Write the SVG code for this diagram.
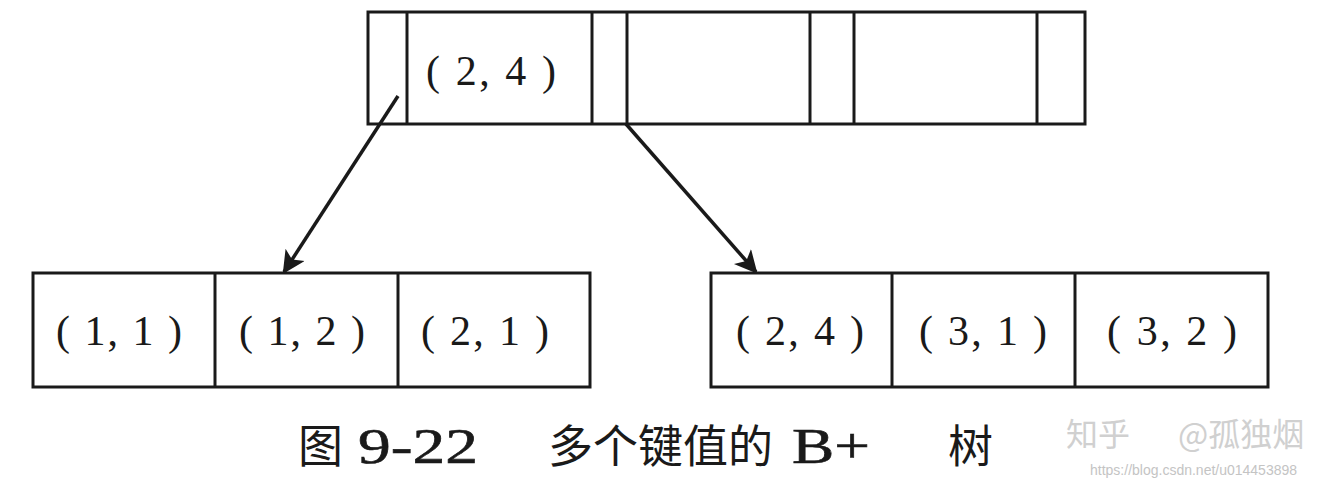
<svg xmlns="http://www.w3.org/2000/svg" width="1335" height="488" viewBox="0 0 1335 488">
  <style>
    .box { fill: #ffffff; stroke: #1a1a1a; stroke-width: 3; }
    .div { stroke: #1a1a1a; stroke-width: 3; }
    .lbl { font-family: "Liberation Serif", serif; font-size: 42px; fill: #1a1a1a; text-anchor: middle; }
    .edge { stroke: #1a1a1a; stroke-width: 3.5; fill: none; }
    .cap { font-family: "Liberation Serif", serif; font-size: 50px; fill: #1a1a1a; stroke: #1a1a1a; stroke-width: 0.6; }
    .capcjk { font-family: "Noto Sans CJK SC", sans-serif; font-size: 45px; fill: #1a1a1a; }
    .wm { font-family: "Noto Sans CJK SC", sans-serif; font-size: 32px; fill: #d0d0d0; }
    .url { font-family: "Liberation Sans", sans-serif; font-size: 14px; fill: #c4c4c4; }
  </style>
  <defs>
    <marker id="arr" viewBox="0 0 10 10" refX="9" refY="5" markerWidth="7.5" markerHeight="6.5" markerUnits="strokeWidth" orient="auto">
      <path d="M0,0 L10,5 L0,10 L2.5,5 Z" fill="#1a1a1a"/>
    </marker>
  </defs>

  <g id="root">
    <rect class="box" x="368" y="12" width="717" height="112"/>
    <line class="div" x1="407" y1="12" x2="407" y2="124"/>
    <line class="div" x1="592" y1="12" x2="592" y2="124"/>
    <line class="div" x1="627" y1="12" x2="627" y2="124"/>
    <line class="div" x1="810" y1="12" x2="810" y2="124"/>
    <line class="div" x1="854" y1="12" x2="854" y2="124"/>
    <line class="div" x1="1037" y1="12" x2="1037" y2="124"/>
    <text class="lbl" x="491" y="85" textLength="130" lengthAdjust="spacing">( 2, 4 )</text>
  </g>

  <g id="leaf-left">
    <rect class="box" x="33" y="273" width="557" height="114"/>
    <line class="div" x1="215" y1="273" x2="215" y2="387"/>
    <line class="div" x1="398" y1="273" x2="398" y2="387"/>
    <text class="lbl" x="119" y="345" textLength="126" lengthAdjust="spacing">( 1, 1 )</text>
    <text class="lbl" x="302" y="345" textLength="126" lengthAdjust="spacing">( 1, 2 )</text>
    <text class="lbl" x="485" y="345" textLength="128" lengthAdjust="spacing">( 2, 1 )</text>
  </g>

  <g id="leaf-right">
    <rect class="box" x="711" y="273" width="557" height="114"/>
    <line class="div" x1="892" y1="273" x2="892" y2="387"/>
    <line class="div" x1="1075" y1="273" x2="1075" y2="387"/>
    <text class="lbl" x="800" y="345" textLength="128" lengthAdjust="spacing">( 2, 4 )</text>
    <text class="lbl" x="983" y="345" textLength="128" lengthAdjust="spacing">( 3, 1 )</text>
    <text class="lbl" x="1172" y="345" textLength="130" lengthAdjust="spacing">( 3, 2 )</text>
  </g>

  <g id="connectors">
    <line class="edge" x1="398" y1="96" x2="284" y2="272" marker-end="url(#arr)"/>
    <line class="edge" x1="626" y1="124" x2="756" y2="272" marker-end="url(#arr)"/>
  </g>

  <g id="caption">
    <text class="capcjk" x="298" y="463">图</text>
    <text class="cap" x="358" y="463" textLength="120" lengthAdjust="spacingAndGlyphs">9-22</text>
    <text class="capcjk" x="548" y="463">多个键值的</text>
    <text class="cap" x="792" y="463" textLength="78" lengthAdjust="spacingAndGlyphs">B+</text>
    <text class="capcjk" x="948" y="463">树</text>
  </g>

  <g id="watermark">
    <text class="wm" x="1066" y="446">知乎</text>
    <text class="wm" x="1178" y="446">@孤独烟</text>
    <text class="url" x="1090" y="475">https://blog.csdn.net/u014453898</text>
  </g>
</svg>
